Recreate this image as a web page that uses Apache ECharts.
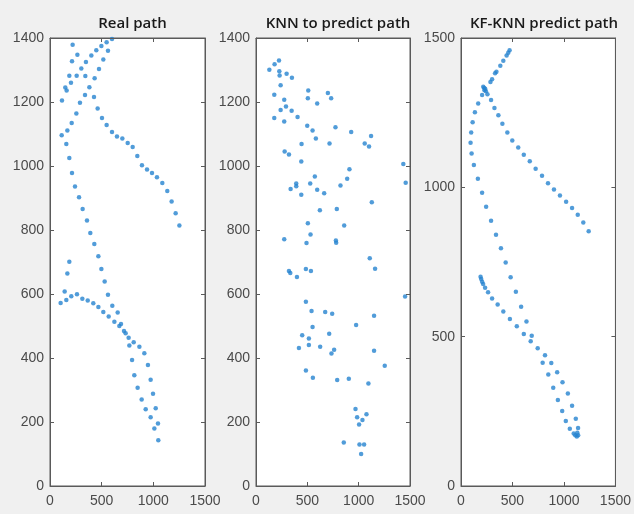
<!DOCTYPE html>
<html><head><meta charset="utf-8">
<script src="https://cdn.jsdelivr.net/npm/echarts@6/dist/echarts.min.js"></script>
<style>html,body{margin:0;padding:0;background:#f0f0f0;}#c{width:634px;height:514px;}</style>
</head><body><div id="c"></div>
<script>
const titles = ["Real path", "KNN to predict path", "KF-KNN predict path"];
const xTicks = [0, 500, 1000, 1500];
const yMax = [1400, 1400, 1500];
const yStep = [200, 200, 500];

const realPath = [[219,1379],[497,1375],[548,1387],[600,1397],[448,1362],[400,1345],[561,1360],[265,1348],[213,1327],[348,1325],[303,1305],[516,1333],[474,1303],[187,1282],[258,1282],[342,1281],[432,1274],[203,1260],[148,1245],[161,1236],[381,1246],[339,1222],[426,1216],[116,1205],[290,1198],[461,1180],[255,1164],[503,1150],[210,1134],[548,1128],[168,1111],[113,1096],[600,1106],[648,1092],[700,1086],[752,1072],[800,1059],[158,1069],[845,1031],[187,1025],[890,1002],[939,989],[987,978],[1035,965],[1087,947],[1135,922],[1177,889],[1216,852],[1252,814],[213,978],[242,936],[281,902],[316,866],[358,830],[390,791],[429,756],[468,718],
[187,701],[497,678],[168,664],[529,639],[561,598],[142,608],[103,572],[158,581],[206,593],[261,599],[313,585],[365,580],[419,571],[468,559],[516,544],[568,530],[603,563],[623,513],[655,542],[671,500],[687,506],[716,484],[732,477],[761,463],[768,439],[810,449],[794,394],[865,435],[816,346],[913,415],[848,307],[948,378],[887,270],[974,332],[926,240],[997,288],[974,215],[1023,243],[1010,180],[1045,195],[1048,143]];

const knnPath = [[130,1301],[181,1318],[224,1330],[227,1296],[230,1283],[298,1288],[350,1276],[240,1252],[178,1223],[275,1207],[292,1186],[240,1175],[347,1173],[178,1150],[275,1139],[405,1153],[509,1236],[505,1212],[596,1195],[700,1228],[732,1212],[499,1126],[551,1111],[583,1086],[774,1121],[927,1106],[444,1069],[716,1070],[1059,1070],[1101,1061],[1121,1094],[279,1045],[321,1036],[441,1014],[573,967],[910,990],[888,960],[528,945],[392,945],[392,937],[337,928],[441,910],[596,926],[664,915],[823,939],[1435,1006],[1458,948],[1128,887],[622,862],[787,866],[859,814],[505,821],[531,786],[275,771],[492,759],[778,767],[781,760],[1108,712],
[1160,679],[321,672],[334,666],[399,653],[486,678],[535,672],[1452,592],[486,576],[541,547],[674,544],[742,538],[1150,532],[975,503],[551,497],[450,471],[515,461],[713,476],[515,441],[625,435],[418,431],[761,426],[735,414],[1150,423],[1254,376],[486,361],[554,338],[791,331],[904,335],[1095,320],[969,241],[985,215],[1076,224],[1037,206],[1004,192],[855,136],[1008,130],[1053,130],[1024,100]];

const kfKnnPath = [[472,1459],[459,1451],[443,1441],[411,1424],[382,1407],[344,1387],[331,1382],[302,1362],[286,1353],[216,1337],[225,1333],[235,1330],[228,1325],[242,1322],[205,1309],[257,1312],[167,1281],[292,1292],[135,1251],[325,1266],[363,1241],
[113,1218],[99,1184],[93,1149],[103,1113],[125,1075],[164,1029],[205,982],[244,935],[292,888],[340,841],[388,796],[434,748],[482,699],[533,650],[584,600],[636,551],[687,503],
[402,1213],[450,1184],[498,1157],[556,1133],[610,1109],[668,1087],[725,1062],[787,1039],[845,1014],[903,993],[961,973],[1021,952],[1079,931],[1134,908],[1188,882],[1240,853],
[190,701],[196,693],[205,684],[215,676],[234,664],[263,649],[302,628],[356,608],[411,584],[475,559],[542,535],[610,509],[677,485],[745,461],[816,438],[793,413],[877,412],[848,373],[934,381],[896,329],[986,347],[941,288],[1038,310],[983,251],[1079,269],[1018,218],[1115,225],[1057,192],[1137,194],[1095,176],[1110,170],[1125,166],[1138,170],[1130,178]];

const datasets = [realPath, knnPath, kfKnnPath];
const lefts = [50, 256, 461];
const widths = [155, 154, 156];
const lineCol = '#5a5a5a';
const labCol = '#4a4a4a';
const font = 'Liberation Sans, Arial, sans-serif';
const fmt = v => String(v);

const grid = [], xAxis = [], yAxis = [], series = [], title = [];
for (let i = 0; i < 3; i++) {
  grid.push({left: lefts[i], width: widths[i], top: 38, height: 448, show: true, backgroundColor: '#ffffff', borderWidth: 1, borderColor: lineCol, z: 0});
  const common = {min: 0, z: 5, axisLine: {show: true, onZero: false, lineStyle: {color: lineCol, width: 1}}, splitLine: {show: false}, axisTick: {show: true, inside: true, length: 4, lineStyle: {color: lineCol}}};
  xAxis.push(Object.assign({type: 'value', gridIndex: i, position: 'bottom', max: 1500, interval: 500,
    axisLabel: {show: true, color: labCol, fontSize: 14, fontFamily: font, margin: 8, formatter: fmt, showMinLabel: true, showMaxLabel: true}}, common));
  yAxis.push(Object.assign({type: 'value', gridIndex: i, position: 'left', max: yMax[i], interval: yStep[i],
    axisLabel: {show: true, color: labCol, fontSize: 14, fontFamily: font, margin: 6, formatter: fmt, showMinLabel: true, showMaxLabel: true}}, common));
  series.push({type: 'scatter', xAxisIndex: i, yAxisIndex: i, data: datasets[i], symbolSize: 4.5, z: 3,
    itemStyle: {color: '#2683d0'}, silent: true, animation: false});
  title.push({text: titles[i], left: lefts[i] + widths[i] / 2, top: 11, textAlign: 'center',
    textStyle: {fontSize: 15, fontWeight: 600, color: '#1a1a1a', fontFamily: 'Open Sans, Noto Sans, sans-serif'}});
}
for (let i = 0; i < 3; i++) {
  const common = {min: 0, z: 5, axisLine: {show: true, onZero: false, lineStyle: {color: lineCol, width: 1}}, splitLine: {show: false}, axisLabel: {show: false}, axisTick: {show: true, inside: true, length: 4, lineStyle: {color: lineCol}}};
  xAxis.push(Object.assign({type: 'value', gridIndex: i, position: 'top', max: 1500, interval: 500}, common));
  yAxis.push(Object.assign({type: 'value', gridIndex: i, position: 'right', max: yMax[i], interval: yStep[i]}, common));
}
const chart = echarts.init(document.getElementById('c'), null, {renderer: 'canvas'});
chart.setOption({backgroundColor: '#f0f0f0', animation: false, title, grid, xAxis, yAxis, series});
</script></body></html>
